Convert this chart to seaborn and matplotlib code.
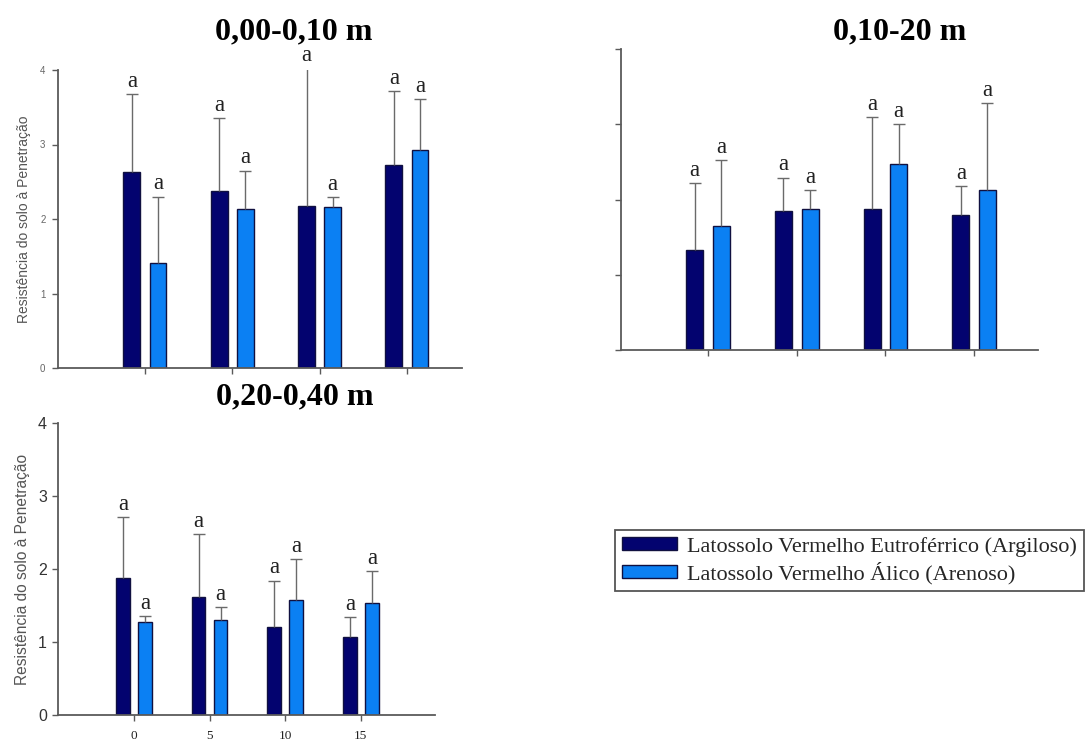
import matplotlib
matplotlib.use("Agg")
import matplotlib.pyplot as plt
import numpy as np
import pandas as pd
import seaborn as sns

# Doses (categories) and soil classes
doses = ["0", "5", "10", "15"]
solos = ["Latossolo Vermelho Eutroférrico (Argiloso)",
         "Latossolo Vermelho Álico (Arenoso)"]

# 0,00-0,10 m
p1_argiloso = [2.63, 2.37, 2.17, 2.72]
p1_argiloso_sd = [1.05, 0.98, 1.86, 1.00]
p1_arenoso = [1.41, 2.13, 2.16, 2.93]
p1_arenoso_sd = [0.89, 0.52, 0.13, 0.68]

# 0,10-0,20 m
p2_argiloso = [1.33, 1.85, 1.87, 1.80]
p2_argiloso_sd = [0.89, 0.44, 1.22, 0.38]
p2_arenoso = [1.65, 1.88, 2.47, 2.12]
p2_arenoso_sd = [0.87, 0.24, 0.53, 1.16]

# 0,20-0,40 m
p3_argiloso = [1.88, 1.62, 1.21, 1.07]
p3_argiloso_sd = [0.83, 0.86, 0.63, 0.27]
p3_arenoso = [1.27, 1.30, 1.58, 1.53]
p3_arenoso_sd = [0.09, 0.18, 0.56, 0.44]

letras = ["a", "a", "a", "a"]
titulos = ["0,00-0,10 m", "0,10-20 m", "0,20-0,40 m"]
ylabel = "Resistência do solo à Penetração"

sns.set_theme(style="ticks")
plt.rcParams["font.family"] = ["Liberation Sans", "DejaVu Sans"]

W, H = 1085, 744
fig = plt.figure(figsize=(W / 100, H / 100), dpi=100)


def rect(x0, x1, ytop, ybot):
    return [x0 / W, 1 - ybot / H, (x1 - x0) / W, (ybot - ytop) / H]


ax1 = fig.add_axes(rect(58, 462, 70, 368))
ax2 = fig.add_axes(rect(621, 1038, 49, 350))
ax3 = fig.add_axes(rect(58, 435, 423, 715))

palette = {solos[0]: "#03036f", solos[1]: "#0b80f3"}
serif = ["Liberation Serif", "DejaVu Serif"]
spine_c = "#5a5a5a"


def painel(ax, arg, arg_sd, are, are_sd, xlim, width, gap):
    df = pd.DataFrame({
        "dose": doses * 2,
        "solo": [solos[0]] * 4 + [solos[1]] * 4,
        "valor": list(arg) + list(are),
    })
    sns.barplot(data=df, x="dose", y="valor", hue="solo", order=doses,
                hue_order=solos, palette=palette, width=width, gap=gap,
                errorbar=None, edgecolor="#101040", linewidth=1.0,
                saturation=1, ax=ax, legend=True)
    for cont, means, sds in zip(ax.containers, [arg, are], [arg_sd, are_sd]):
        xs = [p.get_x() + p.get_width() / 2 for p in cont.patches]
        _, caps, _ = ax.errorbar(xs, means, yerr=[np.zeros(len(sds)), sds],
                                 fmt="none", ecolor="#6a6a6a", elinewidth=1.0,
                                 capsize=4, capthick=1.0, zorder=3)
        caps[0].set_visible(False)
        for x, m, s, l in zip(xs, means, sds, letras):
            ax.text(x, m + s + 0.03, l, ha="center", va="bottom",
                    family=serif, fontsize=16.5, color="#222222")
    ax.set_xlim(*xlim)
    ax.set_ylim(0, 4)
    ax.set_yticks([0, 1, 2, 3, 4])
    ax.set_xlabel("")
    ax.set_ylabel("")
    sns.despine(ax=ax)
    for s in ["left", "bottom"]:
        ax.spines[s].set_color(spine_c)
        ax.spines[s].set_linewidth(1.3)
    ax.tick_params(axis="both", direction="out", length=4, width=1,
                   color=spine_c)
    ax.set_facecolor("none")


painel(ax1, p1_argiloso, p1_argiloso_sd, p1_arenoso, p1_arenoso_sd,
       (-0.996, 3.63), 0.6, 0.36)
painel(ax2, p2_argiloso, p2_argiloso_sd, p2_arenoso, p2_arenoso_sd,
       (-0.981, 3.72), 0.6, 0.36)
painel(ax3, p3_argiloso, p3_argiloso_sd, p3_arenoso, p3_arenoso_sd,
       (-1.004, 3.98), 0.58, 0.38)

handles, labels = ax1.get_legend_handles_labels()
for ax in (ax1, ax2, ax3):
    leg = ax.get_legend()
    if leg is not None:
        leg.remove()

# Panel 1: small grey tick labels
ax1.set_xticklabels([])
ax1.tick_params(axis="y", labelsize=7, labelcolor="#666666", pad=5)
ax1.set_ylabel(ylabel, fontsize=10, color="#555555")
ax1.yaxis.set_label_coords(-0.067, 0.5)

# Panel 2: ticks without labels
ax2.set_xticklabels([])
ax2.set_yticklabels([])

# Panel 3: labelled axes
ax3.tick_params(axis="y", labelsize=11.5, labelcolor="#333333", pad=4)
ax3.tick_params(axis="x", labelsize=9.5, labelcolor="#222222", pad=7)
for t in ax3.get_xticklabels():
    t.set_family(serif)
ax3.set_ylabel(ylabel, fontsize=11.2, color="#555555")
ax3.yaxis.set_label_coords(-0.075, 0.5)

# Depth titles
for (x, y), t in zip([(294, 32), (900, 32), (295, 397)], titulos):
    fig.text(x / W, 1 - y / H, t, ha="center", va="center", family=serif,
             fontweight="bold", fontsize=23, color="black")

fig.legend(handles, labels, loc="upper left",
           bbox_to_anchor=(615 / W, 1 - 530 / H), borderaxespad=0,
           prop={"family": serif, "size": 16}, frameon=True, fancybox=False,
           edgecolor="#555555", framealpha=1, handlelength=2.5,
           handleheight=0.55, handletextpad=0.45, borderpad=0.3,
           labelspacing=0.25)
fig.legends[0].get_frame().set_linewidth(1.3)

fig.savefig("out.png", dpi=100, facecolor="white")
